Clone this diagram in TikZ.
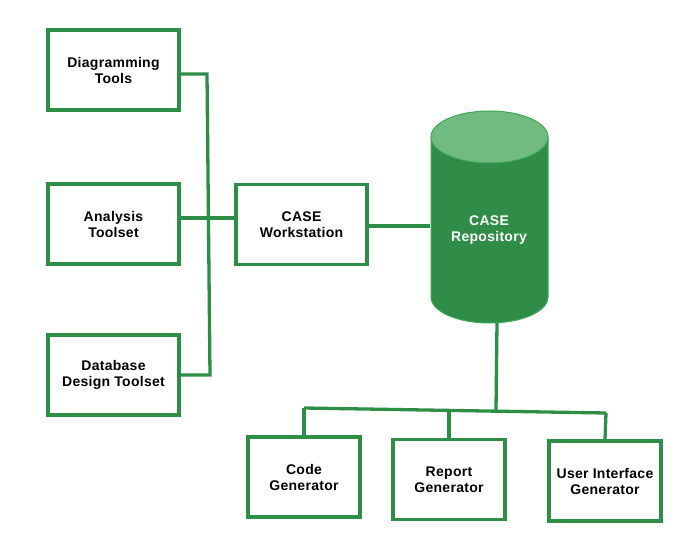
\documentclass[tikz,border=0pt]{standalone}
\usepackage{fontspec}
\setmainfont{Liberation Sans}[LetterSpace=2]
\definecolor{gline}{RGB}{47,142,70}
\definecolor{cylbody}{RGB}{48,141,71}
\definecolor{cyltop}{RGB}{114,187,128}
\definecolor{cyledge}{RGB}{58,168,84}
\begin{document}
\begin{tikzpicture}[x=1pt,y=-1pt,
  box/.style={draw=gline,line width=3.3pt,minimum width=131pt,minimum height=80pt,
    align=center,font=\fontsize{14}{16}\selectfont\bfseries,inner sep=0pt},
  gbox/.style={box,minimum width=112pt,minimum height=80pt},
  conn/.style={draw=gline,line width=3.3pt}]
\useasboundingbox (0,0) rectangle (694,535);
\node[box] (dt) at (113.5,70) {Diagramming\\Tools};
\node[box] (at) at (113.5,224) {Analysis\\Toolset};
\node[box] (dd) at (113.5,375) {Database\\Design Toolset};
\node[box] (ws) at (301.5,224.5) {CASE\\Workstation};
\node[gbox] (cg) at (304,477) {Code\\Generator};
\node[gbox] (rg) at (449,479.5) {Report\\Generator};
\node[gbox] (ui) at (605,481) {User Interface\\Generator};
% cylinder
\fill[cylbody,draw=cyledge,line width=1pt] (431,137) -- (431,297) arc[start angle=180,end angle=360,x radius=58.5pt,y radius=26pt] -- (548,137) -- cycle;
\fill[cyltop,draw=cyledge,line width=1pt] (489.5,137) ellipse [x radius=58.5pt,y radius=26pt];
\node[text=white,align=center,font=\fontsize{14}{16}\selectfont\bfseries] (repo) at (489,230) {CASE\\Repository};
\coordinate (cylL) at (430,226);
\coordinate (cylB) at (497,323);
% left bus
\coordinate (j1) at (207,74);
\coordinate (j2) at (210,375);
\coordinate (j3) at (208.5,218);
\draw[conn] (dt.east |- j1) -- (j1) -- (j2) -- (dd.east |- j2);
\draw[conn] (at.east |- j3) -- (ws.west |- j3);
\draw[conn] (ws.east |- cylL) -- (cylL);
% bottom bus
\coordinate (b0) at (496,410);
\coordinate (bL) at (304,408);
\coordinate (bR) at (606,413);
\coordinate (bM) at (449,411);
\draw[conn] (cylB) -- (b0);
\draw[conn] (bL) -- (bR);
\draw[conn] (bL) -- (cg.north);
\draw[conn] (bM) -- (rg.north);
\draw[conn] (bR) -- (ui.north);
\end{tikzpicture}
\end{document}
